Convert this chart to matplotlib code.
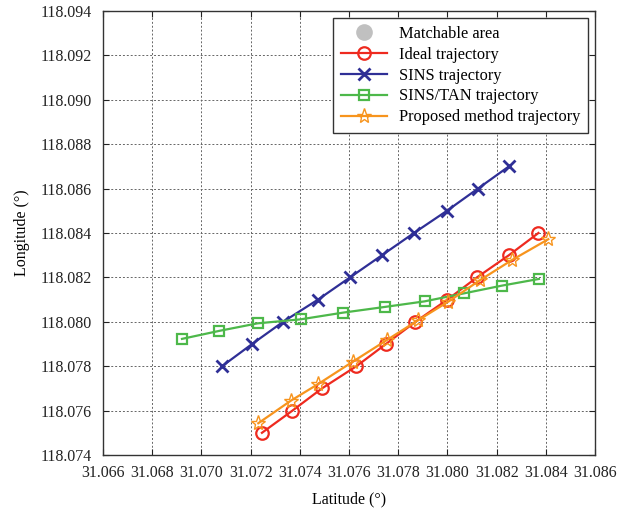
import matplotlib
matplotlib.use("Agg")
import matplotlib.pyplot as plt
from matplotlib.lines import Line2D

plt.rcParams["font.family"] = ["Liberation Serif", "DejaVu Serif"]
plt.rcParams["font.size"] = 11.5

# -------- Data --------
ideal_lat = [31.07246, 31.0737, 31.0749, 31.0763, 31.0775, 31.0787, 31.0800, 31.0812, 31.0825, 31.0837]
ideal_lon = [118.075, 118.076, 118.077, 118.078, 118.079, 118.080, 118.081, 118.082, 118.083, 118.084]

sins_lat = [31.07084, 31.07206, 31.07332, 31.07474, 31.07604, 31.07734, 31.07864, 31.07998, 31.08124, 31.0825]
sins_lon = [118.078, 118.079, 118.080, 118.081, 118.082, 118.083, 118.084, 118.085, 118.086, 118.087]

tan_lat = [31.06921, 31.07072, 31.07228, 31.07403, 31.07574, 31.07746, 31.07907, 31.08067, 31.08222, 31.08372]
tan_lon = [118.07923, 118.07959, 118.07993, 118.08011, 118.08041, 118.08067, 118.08092, 118.08128, 118.08163, 118.08193]

prop_lat = [31.07231, 31.07364, 31.07475, 31.07615, 31.07754, 31.07882, 31.08004, 31.08133, 31.08262, 31.0841]
prop_lon = [118.07543, 118.07645, 118.0772, 118.0782, 118.07918, 118.08008, 118.08091, 118.08188, 118.08278, 118.08372]

x_ticks = [31.066, 31.068, 31.070, 31.072, 31.074, 31.076, 31.078, 31.080, 31.082, 31.084, 31.086]
y_ticks = [118.074, 118.076, 118.078, 118.080, 118.082, 118.084, 118.086, 118.088, 118.090, 118.092, 118.094]

# -------- Plot --------
fig = plt.figure(figsize=(6.29, 5.11), dpi=100)
ax = fig.add_axes([0.1638, 0.1096, 0.7822, 0.8689])

ax.plot(ideal_lat, ideal_lon, color="#ee2a1f", lw=1.6, marker="o", ms=9,
        mfc="none", mew=1.6, label="Ideal trajectory", zorder=3)
ax.plot(sins_lat, sins_lon, color="#2f2f96", lw=1.6, marker="x", ms=8,
        mew=2.0, label="SINS trajectory", zorder=3)
ax.plot(tan_lat, tan_lon, color="#4db84a", lw=1.6, marker="s", ms=7,
        mfc="none", mew=1.6, label="SINS/TAN trajectory", zorder=3)
ax.plot(prop_lat, prop_lon, color="#f7941d", lw=1.6, marker="*", ms=11,
        mfc="none", mew=1.0, label="Proposed method trajectory", zorder=4)

ax.set_xlim(x_ticks[0], x_ticks[-1])
ax.set_ylim(y_ticks[0], y_ticks[-1])
ax.set_xticks(x_ticks)
ax.set_yticks(y_ticks)
ax.set_xticklabels([f"{v:.3f}" for v in x_ticks])
ax.set_yticklabels([f"{v:.3f}" for v in y_ticks])
ax.tick_params(direction="in", top=True, right=True, length=4, colors="#222222")
ax.tick_params(axis="x", pad=7)
ax.tick_params(axis="y", pad=8)
ax.grid(True, linestyle=(0, (2, 2)), color="#666666", lw=0.7)
for s in ax.spines.values():
    s.set_color("#333333")
    s.set_linewidth(1.0)

ax.set_xlabel("Latitude (°)", labelpad=8)
ax.set_ylabel("Longitude (°)", labelpad=8)

area = Line2D([], [], color="#c0c0c0", marker="o", ms=12, lw=0,
              markeredgewidth=0, label="Matchable area")
handles, labels = ax.get_legend_handles_labels()
leg = ax.legend([area] + handles, ["Matchable area"] + labels, loc="upper right",
                fancybox=False, edgecolor="#333333", framealpha=1,
                borderaxespad=0.45, handlelength=2.8, handletextpad=0.75,
                labelspacing=0.3, borderpad=0.45, fontsize=11.8)
leg.get_frame().set_linewidth(1.0)

fig.savefig("out.png", dpi=100)
